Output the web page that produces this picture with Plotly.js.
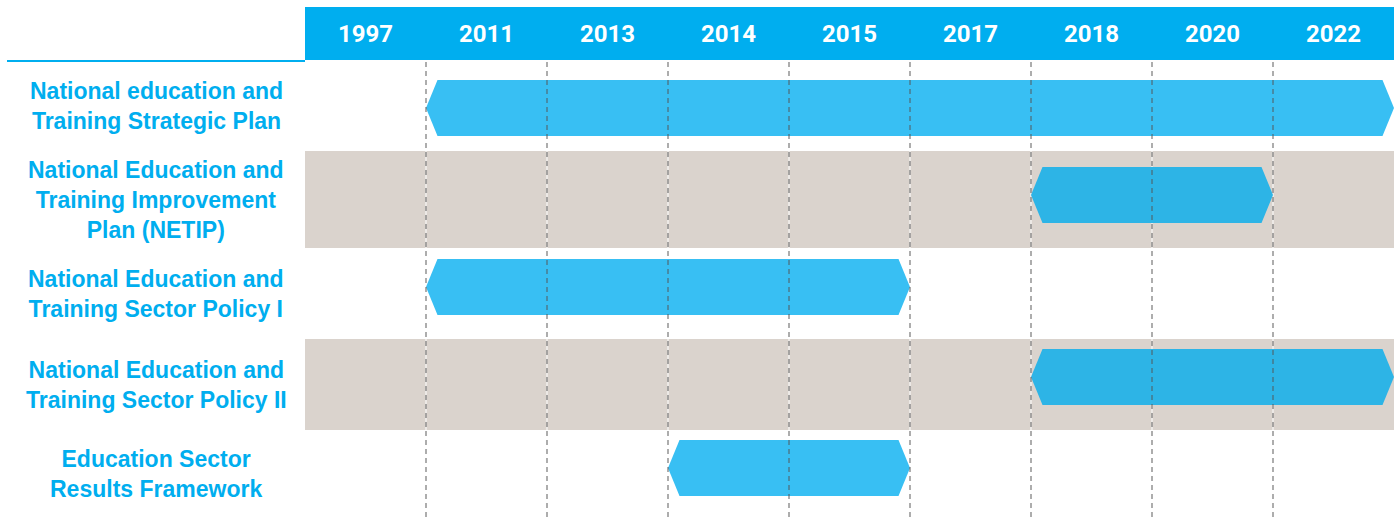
<!DOCTYPE html>
<html>
<head>
<meta charset="utf-8">
<script src="https://cdn.plot.ly/plotly-3.0.1.min.js"></script>
<style>
  html, body { margin: 0; padding: 0; background: #ffffff; }
  #chart { width: 1397px; height: 517px; }
</style>
</head>
<body>
<div id="chart"></div>
<script>
// ---------- data ----------
const years = ["1997", "2011", "2013", "2014", "2015", "2017", "2018", "2020", "2022"];
const programmes = [
  "National education and<br>Training Strategic Plan",
  "National Education and<br>Training Improvement<br>Plan (NETIP)",
  "National Education and<br>Training Sector Policy I",
  "National Education and<br>Training Sector Policy II",
  "Education Sector<br>Results Framework"
];
// bars run from the boundary before column startCol to the boundary before column endCol
const startCol = [1, 6, 1, 6, 3];
const endCol   = [9, 8, 5, 9, 5];

// ---------- layout geometry (pixel-like units below the header) ----------
const rowEdges   = [0, 91, 188, 279, 370, 457];
const barCenters = [48, 135, 227, 317, 408];
const barHalf = 28;
const tip = 0.095;
const plotH = 457;

const BLUE = "#00aeef";
const BEIGE = "#dad3cd";
const barColors = ["#38bff3", "#2db4e6", "#38bff3", "#2db4e6", "#38bff3"];
const LABEL_FONT = "'Liberation Sans', Arial, sans-serif";
const TICK_FONT = "Roboto, Arial, sans-serif";

const traces = programmes.map((p, i) => {
  const s = startCol[i], e = endCol[i], c = barCenters[i];
  return {
    type: "scatter", mode: "lines", fill: "toself",
    x: [s, s + tip, e - tip, e, e - tip, s + tip, s],
    y: [c, c - barHalf, c - barHalf, c, c + barHalf, c + barHalf, c],
    line: { width: 0, color: barColors[i] },
    fillcolor: barColors[i],
    hoverinfo: "skip", showlegend: false
  };
});

const shapes = [];
// beige bands for alternate rows
[1, 3].forEach(r => {
  shapes.push({ type: "rect", xref: "paper", yref: "y", x0: 0, x1: 1,
    y0: rowEdges[r], y1: rowEdges[r + 1], fillcolor: BEIGE, line: { width: 0 }, layer: "below" });
});
// column boundaries
for (let k = 1; k < years.length; k++) {
  shapes.push({ type: "line", xref: "x", yref: "paper", x0: k, x1: k, y0: 0, y1: 1,
    line: { color: "#ffffff", width: 1 }, layer: "below" });
  shapes.push({ type: "line", xref: "x", yref: "paper", x0: k, x1: k, y0: 0, y1: 1,
    line: { color: "rgba(85,85,85,0.8)", width: 1.2, dash: "5px,4px" }, layer: "above" });
}
// header band
shapes.push({ type: "rect", xref: "paper", yref: "paper", x0: 0, x1: 1,
  y0: 1, y1: 1 + 53 / plotH, fillcolor: BLUE, line: { width: 0 }, layer: "below" });
// thin blue rule under the empty corner
shapes.push({ type: "line", xref: "paper", yref: "paper", x0: (7 - 305) / 1089, x1: 0,
  y0: 1 - 1 / plotH, y1: 1 - 1 / plotH, line: { color: BLUE, width: 2 } });

const annotations = programmes.map((p, i) => ({
  xref: "paper", yref: "y",
  x: (156 - 305) / 1089, y: (rowEdges[i] + rowEdges[i + 1]) / 2,
  xanchor: "center", yanchor: "middle", align: "center",
  text: p, showarrow: false,
  font: { family: LABEL_FONT, size: 23, color: BLUE, weight: 700 }
}));

const layout = {
  width: 1397, height: 517,
  margin: { l: 305, r: 3, t: 60, b: 0, pad: 0 },
  paper_bgcolor: "#ffffff", plot_bgcolor: "rgba(0,0,0,0)",
  showlegend: false,
  xaxis: {
    range: [0, years.length], side: "top",
    tickvals: years.map((y, i) => i + 0.5), ticktext: years,
    tickfont: { family: TICK_FONT, size: 24, color: "#ffffff", weight: 700 },
    ticks: "", showgrid: false, zeroline: false, showline: false,
    ticklabelstandoff: 12, fixedrange: true
  },
  yaxis: {
    range: [plotH, 0], showgrid: false, zeroline: false, showline: false,
    showticklabels: false, ticks: "", fixedrange: true
  },
  shapes: shapes,
  annotations: annotations
};

Plotly.newPlot("chart", traces, layout, { displayModeBar: false, staticPlot: true });
</script>
</body>
</html>
